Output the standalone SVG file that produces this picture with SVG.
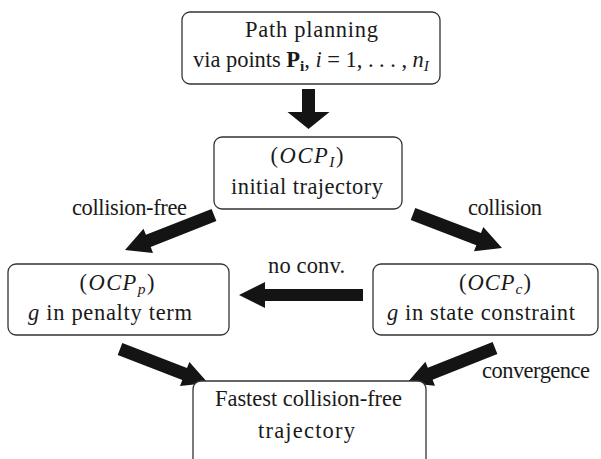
<svg xmlns="http://www.w3.org/2000/svg" width="601" height="459" viewBox="0 0 601 459">
  <style>
    .box { fill: #ffffff; stroke: #333333; stroke-width: 1.3; }
    .t { font-family: 'Liberation Serif', 'Times New Roman', 'DejaVu Serif', serif; font-size: 22.5px; fill: #1a1a1a; text-anchor: middle; }
    .it { font-style: italic; }
    .bf { font-weight: bold; }
    .sub { font-size: 15.5px; }
    .arrow { fill: #141414; }
  </style>
  <rect width="601" height="459" fill="#ffffff"/>

  <!-- connectors: filled block arrows -->
  <g id="connectors">
    <!-- plan to initial trajectory -->
    <polygon class="arrow" points="302,89 315,89 315,112 329.5,112 308.5,129 287.5,112 302,112"/>
    <!-- collision-free -->
    <polygon class="arrow" points="211.6,209 145.9,234.8 143.5,228.8 125,250 153,253 150.7,246.9 216.4,221.1"/>
    <!-- collision -->
    <polygon class="arrow" points="410.7,220.1 476.3,245.2 474,251.2 502,248 483.3,226.9 481,233 415.3,207.9"/>
    <!-- no convergence -->
    <polygon class="arrow" points="363,289 265,289 265,282 239,295 265,308 265,301 363,301"/>
    <!-- penalty to result -->
    <polygon class="arrow" points="117.7,355.1 182.3,380.1 180,386.1 208,383 189.4,361.9 187,367.9 122.3,342.9"/>
    <!-- constraint to result -->
    <polygon class="arrow" points="492.6,342 427.8,367.7 425.4,361.7 407,383 435,385.8 432.6,379.8 497.4,354"/>
    <text class="t" x="129.5" y="215" textLength="115" lengthAdjust="spacing">collision-free</text>
    <text class="t" x="505" y="215" textLength="74" lengthAdjust="spacing">collision</text>
    <text class="t" x="306.5" y="273" textLength="77" lengthAdjust="spacing">no conv.</text>
    <text class="t" x="536" y="378" textLength="108" lengthAdjust="spacing">convergence</text>
  </g>

  <g id="path-planning">
    <rect class="box" x="182" y="12" width="258" height="72" rx="8"/>
    <text class="t" x="311.5" y="37" textLength="133" lengthAdjust="spacing">Path planning</text>
    <text class="t" x="311" y="67" textLength="236" lengthAdjust="spacing">via points <tspan class="bf">P</tspan><tspan class="bf sub" dy="4">i</tspan><tspan dy="-4">, </tspan><tspan class="it">i</tspan> = 1, . . . , <tspan class="it">n</tspan><tspan class="it sub" dy="4">I</tspan></text>
  </g>

  <g id="ocp-initial">
    <rect class="box" x="214" y="137" width="188" height="72" rx="8"/>
    <text class="t" x="307" y="163" textLength="73" lengthAdjust="spacing">(<tspan class="it">OCP</tspan><tspan class="it sub" dy="4">I</tspan><tspan dy="-4">)</tspan></text>
    <text class="t" x="307" y="194" textLength="152" lengthAdjust="spacing">initial trajectory</text>
  </g>

  <g id="ocp-penalty">
    <rect class="box" x="8" y="264" width="221" height="71" rx="8"/>
    <text class="t" x="117" y="290" textLength="75" lengthAdjust="spacing">(<tspan class="it">OCP</tspan><tspan class="it sub" dy="4">p</tspan><tspan dy="-4">)</tspan></text>
    <text class="t" x="110" y="320" textLength="164" lengthAdjust="spacing"><tspan class="it">g</tspan> in penalty term</text>
  </g>

  <g id="ocp-constraint">
    <rect class="box" x="373" y="264" width="225" height="71" rx="8"/>
    <text class="t" x="495" y="290" textLength="72" lengthAdjust="spacing">(<tspan class="it">OCP</tspan><tspan class="it sub" dy="4">c</tspan><tspan dy="-4">)</tspan></text>
    <text class="t" x="481" y="320" textLength="188" lengthAdjust="spacing"><tspan class="it">g</tspan> in state constraint</text>
  </g>

  <g id="result">
    <rect class="box" x="193" y="381" width="233" height="90" rx="8"/>
    <text class="t" x="308.5" y="406" textLength="187" lengthAdjust="spacing">Fastest collision-free</text>
    <text class="t" x="306.5" y="438" textLength="97" lengthAdjust="spacing">trajectory</text>
  </g>
</svg>
